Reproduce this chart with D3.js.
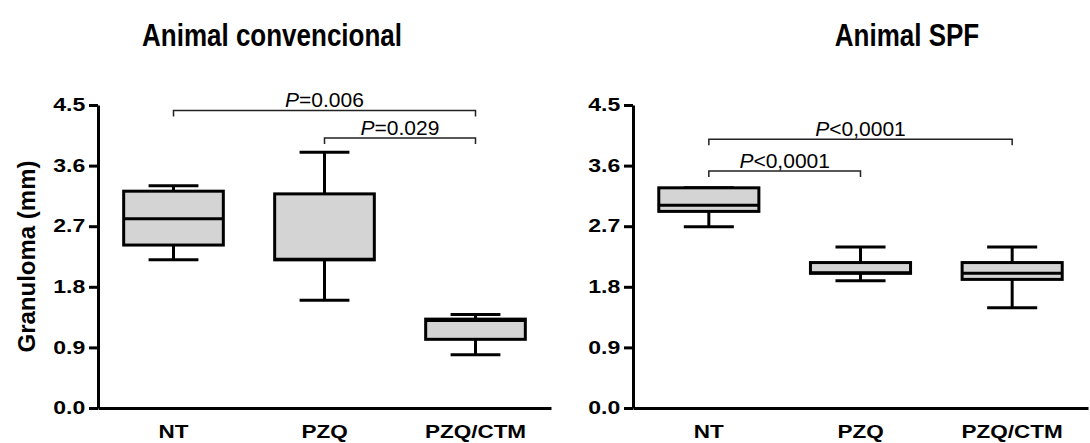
<!DOCTYPE html>
<html>
<head>
<meta charset="utf-8">
<title>Granuloma</title>
<script src="https://cdn.jsdelivr.net/npm/d3@7"></script>
<style>
body { margin: 0; background: white; font-family: "Liberation Sans", Arial, sans-serif; }
.domain { stroke-width: 3px; }
.tick line { stroke-width: 3px; }
</style>
</head>
<body>
<script>
// box plot values
var groups = ["NT", "PZQ", "PZQ/CTM"];
var yTicks = [0, 0.9, 1.8, 2.7, 3.6, 4.5];

var convMin = [2.20, 1.60, 0.79];
var convQ1  = [2.42, 2.20, 1.02];
var convMed = [2.81, 2.21, 1.30];
var convQ3  = [3.22, 3.18, 1.32];
var convMax = [3.30, 3.80, 1.39];

var spfMin = [2.69, 1.89, 1.49];
var spfQ1  = [2.92, 2.00, 1.91];
var spfMed = [3.01, 2.01, 2.00];
var spfQ3  = [3.27, 2.16, 2.16];
var spfMax = [3.27, 2.39, 2.39];

// comparisons: from group, to group, bracket level, p text
var convFrom = [0, 1], convTo = [2, 2], convLevel = [4.42, 4.01], convP = ["=0.006", "=0.029"];
var spfFrom  = [0, 0], spfTo  = [2, 1], spfLevel  = [3.99, 3.52], spfP  = ["<0,0001", "<0,0001"];

var width = 1090, height = 443;
var svg = d3.select("body").append("svg")
  .attr("width", width)
  .attr("height", height);

var y = d3.scaleLinear().domain([0, 4.5]).range([408, 105]);

function panel(title, titleX, x0, x1, mins, q1s, meds, q3s, maxs, from, to, level, ptxt) {
  var x = d3.scaleBand().domain(groups).range([x0, x1]);
  var g = svg.append("g");
  var bw = x.bandwidth() * 0.66;
  var cw = bw / 2;

  g.append("text")
    .attr("transform", "translate(" + titleX + ",46) scale(1,1.2)")
    .attr("text-anchor", "middle")
    .style("font-size", "26px").style("font-weight", "bold")
    .text(title);

  var rows = groups.map(function(d, i) {
    return {name: d, min: mins[i], q1: q1s[i], med: meds[i], q3: q3s[i], max: maxs[i]};
  });

  var box = g.selectAll(".box").data(rows).enter().append("g");
  // whiskers
  box.append("line")
    .attr("x1", function(d) { return x(d.name) + x.bandwidth() / 2; })
    .attr("x2", function(d) { return x(d.name) + x.bandwidth() / 2; })
    .attr("y1", function(d) { return y(d.max); })
    .attr("y2", function(d) { return y(d.min); })
    .attr("stroke", "#000").attr("stroke-width", 3);
  box.selectAll(".cap").data(function(d) { return [d.min, d.max].map(function(v) { return {name: d.name, v: v}; }); })
    .enter().append("line")
    .attr("x1", function(d) { return x(d.name) + x.bandwidth() / 2 - cw / 2; })
    .attr("x2", function(d) { return x(d.name) + x.bandwidth() / 2 + cw / 2; })
    .attr("y1", function(d) { return y(d.v); })
    .attr("y2", function(d) { return y(d.v); })
    .attr("stroke", "#000").attr("stroke-width", 3);
  box.append("rect")
    .attr("x", function(d) { return x(d.name) + x.bandwidth() / 2 - bw / 2; })
    .attr("width", bw)
    .attr("y", function(d) { return y(d.q3); })
    .attr("height", function(d) { return y(d.q1) - y(d.q3); })
    .attr("fill", "#d4d4d4").attr("stroke", "#000").attr("stroke-width", 3);
  box.append("line")
    .attr("x1", function(d) { return x(d.name) + x.bandwidth() / 2 - bw / 2; })
    .attr("x2", function(d) { return x(d.name) + x.bandwidth() / 2 + bw / 2; })
    .attr("y1", function(d) { return y(d.med); })
    .attr("y2", function(d) { return y(d.med); })
    .attr("stroke", "#000").attr("stroke-width", 3);

  // axes
  var ya = g.append("g")
    .attr("transform", "translate(" + x0 + ",0)")
    .call(d3.axisLeft(y).tickValues(yTicks).tickSize(9).tickSizeOuter(0).tickPadding(1)
      .tickFormat(function(d) { return d.toFixed(1); }));
  ya.selectAll("text").style("font-size", "18px").style("font-weight", "bold")
    .style("font-family", "'Liberation Sans', Arial, sans-serif").attr("fill", "#000")
    .attr("transform", "scale(1.28,1)");

  var xa = g.append("g")
    .attr("transform", "translate(0," + y(0) + ")")
    .call(d3.axisBottom(x).tickSize(0).tickPadding(17));
  xa.selectAll("text").style("font-size", "18px").style("font-weight", "bold")
    .style("font-family", "'Liberation Sans', Arial, sans-serif").attr("fill", "#000")
    .attr("transform", "scale(1.25,1)");

  // significance brackets
  var cmp = from.map(function(f, i) { return {a: groups[f], b: groups[to[i]], lv: level[i], p: ptxt[i]}; });
  var br = g.selectAll(".br").data(cmp).enter().append("g");
  br.append("path")
    .attr("d", function(d) {
      var xa_ = x(d.a) + x.bandwidth() / 2, xb = x(d.b) + x.bandwidth() / 2, yy = y(d.lv);
      return "M" + xa_ + "," + (yy + 6) + "V" + yy + "H" + xb + "V" + (yy + 6);
    })
    .attr("fill", "none").attr("stroke", "#222").attr("stroke-width", 1.5);
  var t = br.append("text")
    .attr("x", function(d) { return (x(d.a) + x(d.b)) / 2 + x.bandwidth() / 2; })
    .attr("y", function(d) { return y(d.lv) - 3; })
    .attr("text-anchor", "middle")
    .style("font-size", "21px");
  t.append("tspan").style("font-style", "italic").text("P");
  t.append("tspan").text(function(d) { return d.p; });
}

panel("Animal convencional", 272, 98, 551, convMin, convQ1, convMed, convQ3, convMax, convFrom, convTo, convLevel, convP);
panel("Animal SPF", 907, 633, 1088, spfMin, spfQ1, spfMed, spfQ3, spfMax, spfFrom, spfTo, spfLevel, spfP);

// y axis title
svg.append("text")
  .attr("transform", "translate(35," + (y(0) + y(4.5)) / 2 + ") rotate(-90)")
  .attr("text-anchor", "middle")
  .style("font-size", "24px").style("font-weight", "bold")
  .text("Granuloma (mm)");
</script>
</body>
</html>
